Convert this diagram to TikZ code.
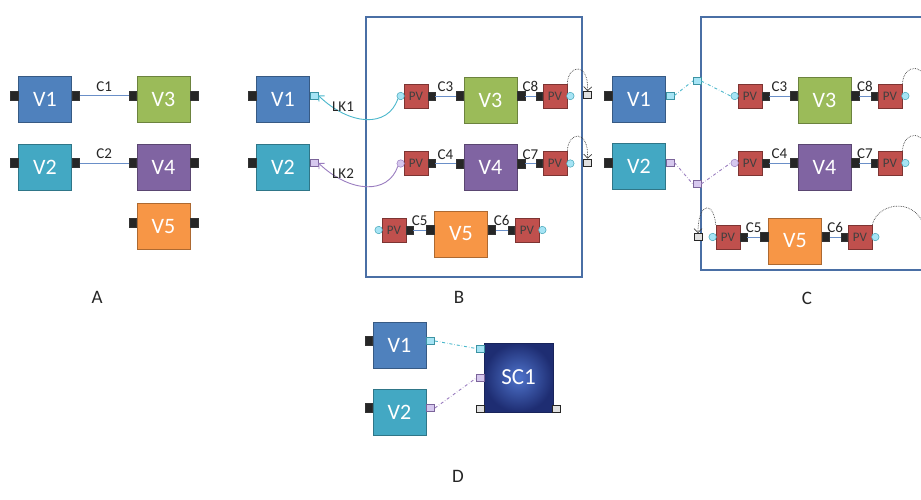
\documentclass[tikz,border=0pt]{standalone}
\usepackage{fontspec}
\setmainfont{Carlito}
\usetikzlibrary{arrows.meta,calc}

\definecolor{vblue}{HTML}{4F81BD}
\definecolor{vteal}{HTML}{43A8C3}
\definecolor{vgreen}{HTML}{9BBB59}
\definecolor{vpurple}{HTML}{8064A2}
\definecolor{vorange}{HTML}{F79646}
\definecolor{pvred}{HTML}{C0504D}
\definecolor{framec}{HTML}{4A6FA5}
\definecolor{cyanport}{HTML}{A6E4F5}
\definecolor{cyanline}{HTML}{4BB8CC}
\definecolor{lavport}{HTML}{D6C8EE}
\definecolor{lavline}{HTML}{9A7DC0}
\definecolor{scin}{HTML}{4F74CC}
\definecolor{scout}{HTML}{1E2D72}
\definecolor{linkc}{HTML}{6A8FC8}

\tikzset{
  vbox/.style={draw=#1!70!black, fill=#1, line width=0.8pt, minimum width=53pt,
    minimum height=46pt, inner sep=0pt, text=white,
    font=\fontsize{22}{22}\selectfont},
  pvbox/.style={draw=pvred!65!black, fill=pvred, line width=0.7pt, minimum size=24pt,
    inner sep=0pt, text=black!75, font=\fontsize{13}{13}\selectfont},
  bport/.style={draw=black!80, fill=black!85, minimum width=7.5pt, minimum height=9pt,
    inner sep=0pt, line width=0.5pt},
  pvport/.style={draw=black!80, fill=black!85, minimum width=6.5pt, minimum height=8pt,
    inner sep=0pt, line width=0.5pt},
  cport/.style={draw=cyanline!80!black, fill=cyanport, minimum width=8pt,
    minimum height=7pt, inner sep=0pt, line width=0.5pt},
  lport/.style={draw=lavline!80!black, fill=lavport, minimum width=8pt,
    minimum height=7pt, inner sep=0pt, line width=0.5pt},
  gport/.style={draw=black!85, fill=black!12, minimum width=8pt, minimum height=7pt,
    inner sep=0pt, line width=0.6pt},
  ccirc/.style={circle, draw=cyanline!90!black, fill=cyanport, minimum size=7.5pt,
    inner sep=0pt, line width=0.5pt},
  lcirc/.style={circle, draw=lavline, fill=lavport, minimum size=7.5pt,
    inner sep=0pt, line width=0.5pt},
  link/.style={draw=linkc, line width=0.7pt},
  clabel/.style={font=\fontsize{15}{15}\selectfont, text=black!85, inner sep=1pt},
  panel/.style={font=\fontsize{19}{19}\selectfont, text=black!85},
  frame/.style={draw=framec, line width=1.6pt},
  loopback/.style={draw=black!75, densely dotted, line width=0.7pt,
    -{Straight Barb[length=4pt,width=8pt]}},
  loopfree/.style={draw=black!75, densely dotted, line width=0.7pt},
  lkarrow/.style={line width=0.9pt, -{Straight Barb[length=4pt,width=8pt]}},
  dashdot cyan/.style={draw=cyanline, dash dot, line width=0.9pt},
  dashdot lav/.style={draw=lavline, dash dot, line width=0.9pt},
}

% V block: name, centre, colour, text, left port style, right port style
% (ports sit 4pt above the middle of the block, on the row line)
\newcommand\vblock[6]{%
  \node[vbox=#3] (#1) at #2 {#4};
  \node[#5, anchor=east] (#1l) at ($(#1.west)+(0,-4)$) {};
  \node[#6, anchor=west] (#1r) at ($(#1.east)+(0,-4)$) {};
}
% PV block with a circular port on the left, black port on the right
\newcommand\pvleft[3]{%
  \node[pvbox] (#1) at #2 {PV};
  \node[#3] (#1c) at ($(#1.west)+(-3,0)$) {};
  \node[pvport, anchor=west] (#1p) at (#1.east) {};
}
% PV block with a black port on the left, circular port on the right
\newcommand\pvright[3]{%
  \node[pvbox] (#1) at #2 {PV};
  \node[pvport, anchor=east] (#1p) at (#1.west) {};
  \node[#3] (#1c) at ($(#1.east)+(3,0)$) {};
}

\begin{document}
\begin{tikzpicture}[x=1pt, y=-1pt]
\useasboundingbox (0,0) rectangle (921,499);
\clip (0,0) rectangle (921,499);
\fill[white] (0,0) rectangle (921,499);

% ---------------- A ----------------
\vblock{a1}{(45,99.5)}{vblue}{V1}{bport}{bport}
\vblock{a3}{(163.5,99.5)}{vgreen}{V3}{bport}{bport}
\vblock{a2}{(45,167)}{vteal}{V2}{bport}{bport}
\vblock{a4}{(163.5,167)}{vpurple}{V4}{bport}{bport}
\vblock{a5}{(163.5,226.5)}{vorange}{V5}{bport}{bport}
\draw[link] (a1r) -- node[clabel, above=3pt] {C1} (a3l);
\draw[link] (a2r) -- node[clabel, above=3pt] {C2} (a4l);
\node[panel] (lA) at (97,297) {A};

% ---------------- B ----------------
\vblock{b1}{(283,99.5)}{vblue}{V1}{bport}{cport}
\vblock{b2}{(283,167)}{vteal}{V2}{bport}{lport}
\draw[frame] (366,17) rectangle (582,277);
% row 1
\pvleft{bp1}{(416,96)}{ccirc}
\vblock{b3}{(490.5,100)}{vgreen}{V3}{bport}{bport}
\pvright{bq1}{(555,96)}{ccirc}
\draw[link] (bp1p) -- node[clabel, above=3pt] {C3} (b3l);
\draw[link] (b3r) -- node[clabel, above=3pt] {C8} (bq1p);
\node[gport] (bg1) at (587.5,95) {};
\draw[loopback] (bq1.north east) .. controls (568,64) and (589,62) .. (bg1.north);
% row 2
\pvleft{bp2}{(416,163.5)}{lcirc}
\vblock{b4}{(490.5,167.5)}{vpurple}{V4}{bport}{bport}
\pvright{bq2}{(555,163.5)}{ccirc}
\draw[link] (bp2p) -- node[clabel, above=3pt] {C4} (b4l);
\draw[link] (b4r) -- node[clabel, above=3pt] {C7} (bq2p);
\node[gport] (bg2) at (587.5,162.5) {};
\draw[loopback] (bq2.north east) .. controls (568,131) and (589,129) .. (bg2.north);
% row 3
\pvleft{bp3}{(394,230)}{ccirc}
\vblock{b5}{(461,234)}{vorange}{V5}{bport}{bport}
\pvright{bq3}{(527,230)}{ccirc}
\draw[link] (bp3p) -- node[clabel, above=3pt] {C5} (b5l);
\draw[link] (b5r) -- node[clabel, above=3pt] {C6} (bq3p);
% links back to V1 and V2
\draw[lkarrow, draw=cyanline] (bp1c.south west) .. controls (388,128) and (350,126) .. (b1r.east);
\draw[lkarrow, draw=lavline] (bp2c.south west) .. controls (388,195) and (350,193) .. (b2r.east);
\node[clabel] (lk1) at (343,107) {LK1};
\node[clabel] (lk2) at (343,174) {LK2};
\node[panel] (lB) at (459,297) {B};

% ---------------- C ----------------
\vblock{c1}{(639,99.5)}{vblue}{V1}{bport}{cport}
\vblock{c2}{(639,166.5)}{vteal}{V2}{bport}{lport}
\draw[frame] (701,17) rectangle (940,270);
\node[cport] (cf1) at (697,81) {};
\node[lport] (cf2) at (697,184) {};
% row 1
\pvleft{cp1}{(750,96)}{ccirc}
\vblock{c3}{(824.5,100)}{vgreen}{V3}{bport}{bport}
\pvright{cq1}{(890,96)}{ccirc}
\draw[link] (cp1p) -- node[clabel, above=3pt] {C3} (c3l);
\draw[link] (c3r) -- node[clabel, above=3pt] {C8} (cq1p);
\draw[loopfree] (cq1.north east) .. controls (904,64) and (924,60) .. (932,92);
% row 2
\pvleft{cp2}{(750,163)}{lcirc}
\vblock{c4}{(824.5,167)}{vpurple}{V4}{bport}{bport}
\pvright{cq2}{(890,163)}{ccirc}
\draw[link] (cp2p) -- node[clabel, above=3pt] {C4} (c4l);
\draw[link] (c4r) -- node[clabel, above=3pt] {C7} (cq2p);
\draw[loopfree] (cq2.north east) .. controls (904,131) and (924,127) .. (932,159);
% row 3
\node[gport] (cg3) at (698,237) {};
\pvleft{cp3}{(728,237)}{ccirc}
\vblock{c5}{(795,241)}{vorange}{V5}{bport}{bport}
\pvright{cq3}{(860,237)}{ccirc}
\draw[link] (cp3p) -- node[clabel, above=3pt] {C5} (c5l);
\draw[link] (c5r) -- node[clabel, above=3pt] {C6} (cq3p);
\draw[loopback] (cp3.north west) .. controls (714,201) and (698,201) .. (cg3.north);
\node[gport] (cg4) at (926,237) {};
\draw[loopfree] (cq3.north east) .. controls (878,201) and (920,196) .. (cg4.north);
% dash-dot links through the frame ports
\draw[dashdot cyan] (c1r.east) -- (cf1.west);
\draw[dashdot cyan] (cf1.east) -- (cp1c.west);
\draw[dashdot lav] (c2r.east) -- (cf2.west);
\draw[dashdot lav] (cf2.east) -- (cp2c.west);
\node[panel] (lC) at (807,298) {C};

% ---------------- D ----------------
\vblock{d1}{(399.5,345)}{vblue}{V1}{bport}{cport}
\vblock{d2}{(399.5,412)}{vteal}{V2}{bport}{lport}
\node[draw=scout!80!black, line width=0.8pt, inner color=scin, outer color=scout,
  minimum size=69pt, inner sep=0pt, text=white,
  font=\fontsize{23}{23}\selectfont] (sc) at (518.5,377.5) {SC1};
\node[cport] (sp1) at (480.5,348.5) {};
\node[lport] (sp2) at (480.5,378) {};
\node[gport] (sp3) at (480.5,408.5) {};
\node[gport] (sp4) at (556.5,408.5) {};
\draw[dashdot cyan] (d1r.east) -- (sp1.west);
\draw[dashdot lav] (d2r.east) -- (sp2.west);
\node[panel] (lD) at (458,476) {D};
\end{tikzpicture}
\end{document}
